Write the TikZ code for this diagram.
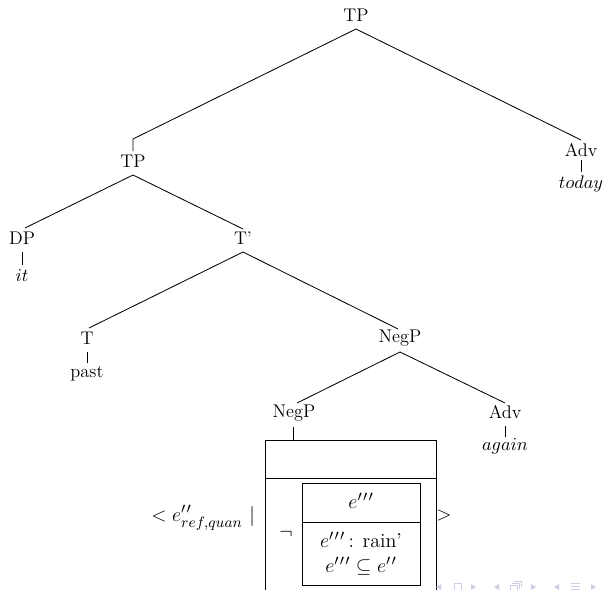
\documentclass[tikz,border=0pt]{standalone}
\usepackage{amssymb}
\DeclareMathSizes{12}{12}{9.5}{7}
\newcommand\ppp{^{\prime\kern0.8pt\prime\kern0.8pt\prime}}
\newcommand\pp{^{\prime\kern0.8pt\prime}}
\begin{document}
\begin{tikzpicture}[x=0.6pt,y=-0.6pt,
  lbl/.style={font=\fontsize{11}{13}\selectfont, inner sep=1pt},
  drs/.style={font=\fontsize{12}{15}\selectfont, inner sep=1pt},
  edge/.style={line width=0.5pt, black},
  nav/.style={fill={rgb,255:red,205;green,205;blue,230}, draw=none},
  navl/.style={draw={rgb,255:red,205;green,205;blue,230}, line width=0.6pt}]
\useasboundingbox (0,0) rectangle (604,590);
\clip (0,0) rectangle (604,590);
% nodes
\node[lbl] (tp) at (356,15) {TP};
\node[lbl] (adv1) at (581,150) {Adv};
\node[lbl] (today) at (581,184) {$today$};
\node[lbl] (tp2) at (133,161) {TP};
\node[lbl] (dp) at (22,238) {DP};
\node[lbl] (it) at (22,275) {$it$};
\node[lbl] (tbar) at (243,238) {T'};
\node[lbl] (t) at (87,338) {T};
\node[lbl] (past) at (87,374) {past};
\node[lbl] (negp) at (400,338) {NegP};
\node[lbl] (negp2) at (294,413) {NegP};
\node[lbl] (adv2) at (505,412) {Adv};
\node[lbl] (again) at (505,446) {$again$};
% coordinates for connectors
\coordinate (tp-b) at (356,29);
\coordinate (tp2-t) at (133,139);
\coordinate (tp2-tt) at (133,151);
\coordinate (adv1-t) at (581,140);
\coordinate (adv1-b) at (581,160);
\coordinate (today-t) at (581,172);
\coordinate (tp2-b) at (133,175);
\coordinate (dp-t) at (25,228);
\coordinate (tbar-t) at (243,229);
\coordinate (dp-b) at (22,252);
\coordinate (it-t) at (22,265);
\coordinate (tbar-b) at (243,252);
\coordinate (t-t) at (89,328);
\coordinate (negp-t) at (398,329);
\coordinate (t-b) at (87,352);
\coordinate (past-t) at (87,363);
\coordinate (negp-b) at (400,352);
\coordinate (negp2-t) at (297,403);
\coordinate (adv2-t) at (505,403);
\coordinate (negp2-b) at (293,427);
\coordinate (box-t) at (293,440);
\coordinate (adv2-b) at (505,426);
\coordinate (again-t) at (505,437);
% connectors
\draw[edge] (tp-b) -- (tp2-t) -- (tp2-tt);
\draw[edge] (tp-b) -- (adv1-t);
\draw[edge] (adv1-b) -- (today-t);
\draw[edge] (tp2-b) -- (dp-t);
\draw[edge] (tp2-b) -- (tbar-t);
\draw[edge] (dp-b) -- (it-t);
\draw[edge] (tbar-b) -- (t-t);
\draw[edge] (tbar-b) -- (negp-t);
\draw[edge] (t-b) -- (past-t);
\draw[edge] (negp-b) -- (negp2-t);
\draw[edge] (negp-b) -- (adv2-t);
\draw[edge] (negp2-b) -- (box-t);
\draw[edge] (adv2-b) -- (again-t);
% DRS box
\draw[edge] (265,600) -- (265,440) -- (436,440) -- (436,600);
\draw[edge] (265,478) -- (436,478);
\draw[edge] (302,483) rectangle (420,585);
\draw[edge] (302,522) -- (420,522);
\node[drs] (neg) at (286,534) {$\neg$};
\node[drs] (eref) at (361,501) {$e\ppp$};
\node[drs, align=center] (cond) at (361,554) {$e\ppp$\,: rain'\\ $e\ppp\subseteq e\pp$};
\node[drs, anchor=east] (left) at (257,518) {$<e\pp_{ref,quan}$ $|$};
\node[drs] (right) at (444,515) {$>$};
% navigation symbols
\fill[nav] (436,587) -- (441,584) -- (441,590) -- cycle;
\draw[navl] (454,583) rectangle (461,591);
\fill[nav] (476,587) -- (471,584) -- (471,590) -- cycle;
\fill[nav] (494,587) -- (499,584) -- (499,590) -- cycle;
\draw[navl] (510,585) rectangle (517,591);
\draw[navl] (512,583) -- (519,583) -- (519,589);
\draw[navl] (514,581) -- (521,581) -- (521,587);
\fill[nav] (536,587) -- (531,584) -- (531,590) -- cycle;
\fill[nav] (554,587) -- (559,584) -- (559,590) -- cycle;
\draw[navl] (571,583) -- (580,583);
\draw[navl] (571,586) -- (580,586);
\draw[navl] (571,589) -- (580,589);
\fill[nav] (596,587) -- (591,584) -- (591,590) -- cycle;
\end{tikzpicture}
\end{document}
